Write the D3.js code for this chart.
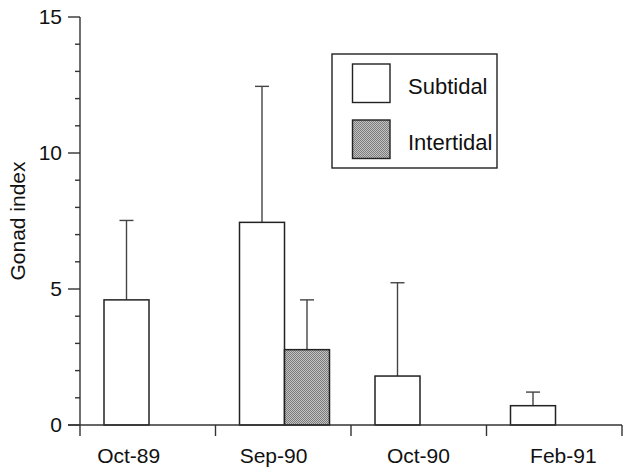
<!DOCTYPE html>
<html>
<head>
<meta charset="utf-8">
<script src="https://cdn.jsdelivr.net/npm/d3@7/dist/d3.min.js"></script>
<style>
  html, body { margin: 0; padding: 0; background: #fff; }
  svg { display: block; font-family: "Liberation Sans", Arial, sans-serif; }
</style>
</head>
<body>
<svg id="chart" width="623" height="469"></svg>
<script>
// Sampling dates
const categories = ["Oct-89", "Sep-90", "Oct-90", "Feb-91"];
const seriesNames = ["Subtidal", "Intertidal"];
// Mean gonad index per date (null = not sampled)
const subtidalMean = [4.6, 7.45, 1.8, 0.71];
const subtidalErr  = [7.52, 12.45, 5.23, 1.21];   // top of error bar
const intertidalMean = [null, 2.77, null, null];
const intertidalErr  = [null, 4.6, null, null];
const yTicks = [0, 5, 10, 15];
const yMinorTicks = d3.range(0, 16, 1);

const svg = d3.select("#chart");
const fontSize = 21;
const legendFontSize = 22;

const y = d3.scaleLinear().domain([0, 15]).range([425, 17]);
const x = d3.scaleBand().domain(categories).range([80, 622]);
const xLabel = d3.scaleBand().domain(categories).range([56.2, 635.8]);
const xSub = d3.scaleBand().domain(seriesNames).range([24, 114]);

// Stipple fill for the intertidal bars
const defs = svg.append("defs");
const pat = defs.append("pattern")
  .attr("id", "stipple").attr("width", 2).attr("height", 2)
  .attr("patternUnits", "userSpaceOnUse");
pat.append("rect").attr("width", 2).attr("height", 2).attr("fill", "#c2c2c2");
pat.append("rect").attr("width", 1).attr("height", 1).attr("fill", "#7d7d7d");
pat.append("rect").attr("x", 1).attr("y", 1).attr("width", 1).attr("height", 1).attr("fill", "#7d7d7d");

const fills = { "Subtidal": "#fff", "Intertidal": "url(#stipple)" };

const rows = [];
categories.forEach((c, i) => {
  rows.push({ cat: c, series: "Subtidal", v: subtidalMean[i], e: subtidalErr[i] });
  rows.push({ cat: c, series: "Intertidal", v: intertidalMean[i], e: intertidalErr[i] });
});
const data = rows.filter(d => d.v != null);

// Error bars (drawn first so bars sit on top)
const errG = svg.append("g").attr("stroke", "#444").attr("stroke-width", 1.4);
data.forEach(d => {
  const cx = x(d.cat) + xSub(d.series) + xSub.bandwidth() / 2;
  errG.append("line").attr("x1", cx).attr("x2", cx).attr("y1", y(d.v)).attr("y2", y(d.e));
  errG.append("line").attr("x1", cx - 7).attr("x2", cx + 7).attr("y1", y(d.e)).attr("y2", y(d.e));
});

// Bars
svg.append("g").selectAll("rect").data(data).join("rect")
  .attr("x", d => x(d.cat) + xSub(d.series))
  .attr("width", xSub.bandwidth())
  .attr("y", d => y(d.v))
  .attr("height", d => y(0) - y(d.v))
  .attr("fill", d => fills[d.series])
  .attr("stroke", "#222")
  .attr("stroke-width", 1.5);

// Axes
const axisColor = "#333";
const ax = svg.append("g").attr("stroke", axisColor).attr("stroke-width", 1.4);
ax.append("line").attr("x1", 80).attr("x2", 80).attr("y1", y(15)).attr("y2", 436);
ax.append("line").attr("x1", 68).attr("x2", 622).attr("y1", y(0)).attr("y2", y(0));
yMinorTicks.forEach(t => {
  const major = yTicks.includes(t);
  ax.append("line").attr("x1", major ? 68 : 75).attr("x2", 80)
    .attr("y1", y(t)).attr("y2", y(t));
});
categories.forEach(c => {
  const bx = x(c) + x.bandwidth();
  ax.append("line").attr("x1", bx).attr("x2", bx).attr("y1", y(0)).attr("y2", 436);
});

svg.append("g").selectAll("text").data(yTicks).join("text")
  .attr("x", 62).attr("y", d => y(d)).attr("dy", "0.35em")
  .attr("text-anchor", "end").attr("font-size", fontSize).attr("fill", "#111")
  .text(d => d);

svg.append("g").selectAll("text").data(categories).join("text")
  .attr("x", d => xLabel(d) + xLabel.bandwidth() / 2).attr("y", 463)
  .attr("text-anchor", "middle").attr("font-size", fontSize).attr("fill", "#111")
  .text(d => d);

svg.append("text")
  .attr("transform", "translate(25,221) rotate(-90)")
  .attr("text-anchor", "middle").attr("font-size", fontSize).attr("fill", "#111")
  .text("Gonad index");

// Legend
const lg = svg.append("g");
lg.append("rect").attr("x", 332).attr("y", 54).attr("width", 165).attr("height", 114)
  .attr("fill", "#fff").attr("stroke", "#222").attr("stroke-width", 1.4);
seriesNames.forEach((s, i) => {
  const yy = 64 + i * 56;
  lg.append("rect").attr("x", 352.5).attr("y", yy).attr("width", 37.5).attr("height", 38.5)
    .attr("fill", fills[s]).attr("stroke", "#222").attr("stroke-width", 1.4);
  lg.append("text").attr("x", 408).attr("y", yy + 29.5)
    .attr("font-size", legendFontSize).attr("fill", "#111").text(s);
});
</script>
</body>
</html>
